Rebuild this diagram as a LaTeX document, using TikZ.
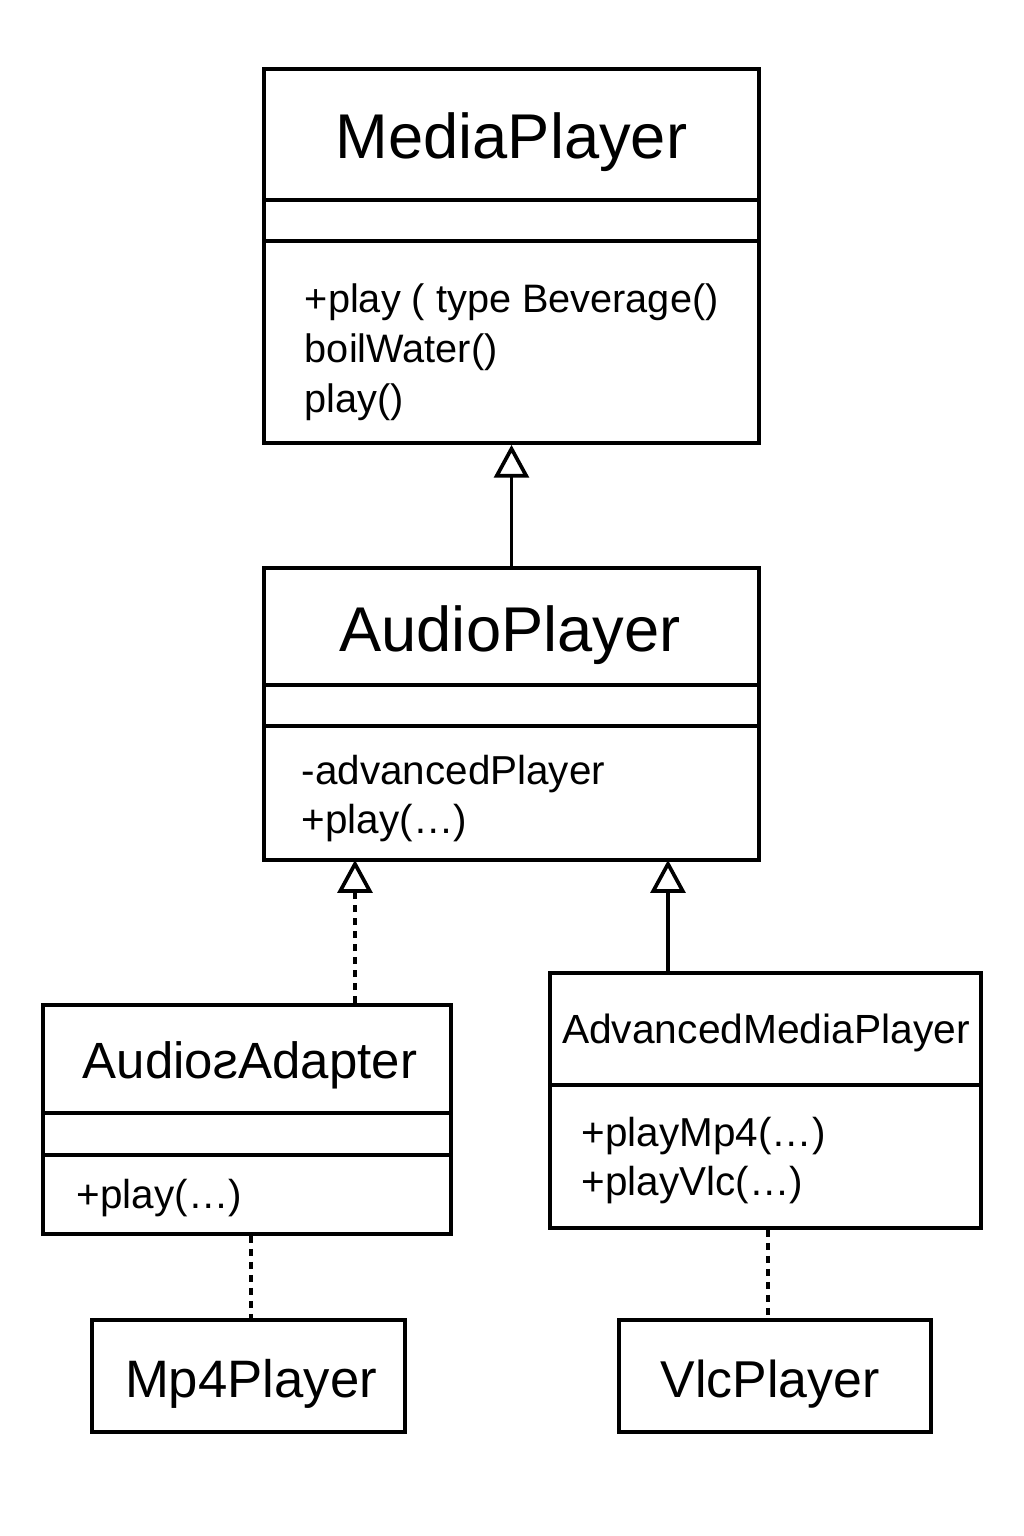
\documentclass[tikz,border=0pt]{standalone}
\usepackage{fontspec}
\setmainfont{Liberation Sans}
\usetikzlibrary{arrows.meta}

\begin{document}
\begin{tikzpicture}[x=0.02cm,y=-0.02cm,line width=2.1pt]

\useasboundingbox (0,0) rectangle (1024,1536);

\tikzset{ClassBox/.style={rectangle,draw,inner sep=0pt,fill=white},
         ClassName/.style={inner sep=0pt,anchor=base,font=\fontsize{36}{43}\selectfont},
         Members/.style={inner sep=0pt,anchor=north west,align=left,font=\fontsize{23}{28.35}\selectfont}}

\begin{scope}[every node/.style={ClassBox}]
    % Class rectangles
    \node (media) at (511.5,256) [minimum width=9.9cm, minimum height=7.48cm] {};
    \node (audio) at (511.5,714) [minimum width=9.9cm, minimum height=5.84cm] {};
    \node (adapter) at (247,1119.5) [minimum width=8.16cm, minimum height=4.58cm] {};
    \node (amp) at (765.5,1100.5) [minimum width=8.62cm, minimum height=5.1cm] {};
    \node (mp4) at (248.5,1376) [minimum width=6.26cm, minimum height=2.24cm] {};
    \node (vlc) at (775,1376) [minimum width=6.24cm, minimum height=2.24cm] {};
\end{scope}

% Compartment lines
\draw (media.west |- 0,200) -- (media.east |- 0,200);
\draw (media.west |- 0,241) -- (media.east |- 0,241);
\draw (audio.west |- 0,685) -- (audio.east |- 0,685);
\draw (audio.west |- 0,726) -- (audio.east |- 0,726);
\draw (adapter.west |- 0,1113) -- (adapter.east |- 0,1113);
\draw (adapter.west |- 0,1155) -- (adapter.east |- 0,1155);
\draw (amp.west |- 0,1085) -- (amp.east |- 0,1085);

% Names
\node (mediaName) at (511.5,158) [ClassName] {MediaPlayer};
\node (audioName) at (510,651) [ClassName] {AudioPlayer};
\node (adapterName) at (250,1078) [ClassName, font=\fontsize{29}{35}\selectfont] {Audio\reflectbox{s}Adapter};
\node (ampName) at (766,1043) [ClassName, font=\fontsize{23.2}{28}\selectfont] {AdvancedMediaPlayer};
\node (mp4Name) at (251,1397) [ClassName, font=\fontsize{30}{36}\selectfont] {Mp4Player};
\node (vlcName) at (770,1397) [ClassName, font=\fontsize{29.5}{36}\selectfont] {VlcPlayer};

% Members
\node (mediaOps) at (303,282) [Members, font=\fontsize{22.6}{28.35}\selectfont] {+play ( type Beverage()\\boilWater()\\play()};
\node (audioOps) at (300,753) [Members] {-advancedPlayer\\+play(…)};
\node (adapterOps) at (75,1177) [Members] {+play(…)};
\node (ampOps) at (580,1115) [Members] {+playMp4(…)\\+playVlc(…)};

% Relations
\coordinate (realize) at (355,860);
\coordinate (extend) at (668,860);
\coordinate (vlcLink) at (768,1320);

\begin{scope}[>={Triangle[open,width=19.8pt,length=18.7pt]}]
    \draw [->] (audio.north) -- (media.south);
    \draw [->,dash pattern=on 4pt off 3.4pt] (adapter.north -| realize) -- (realize);
    \draw [->] (amp.north -| extend) -- (extend);
\end{scope}

\draw [dash pattern=on 4pt off 3.4pt] (adapter.south -| mp4Name) -- (mp4.north -| mp4Name);
\draw [dash pattern=on 4pt off 3.4pt] (amp.south -| vlcLink) -- (vlcLink);

\end{tikzpicture}
\end{document}
